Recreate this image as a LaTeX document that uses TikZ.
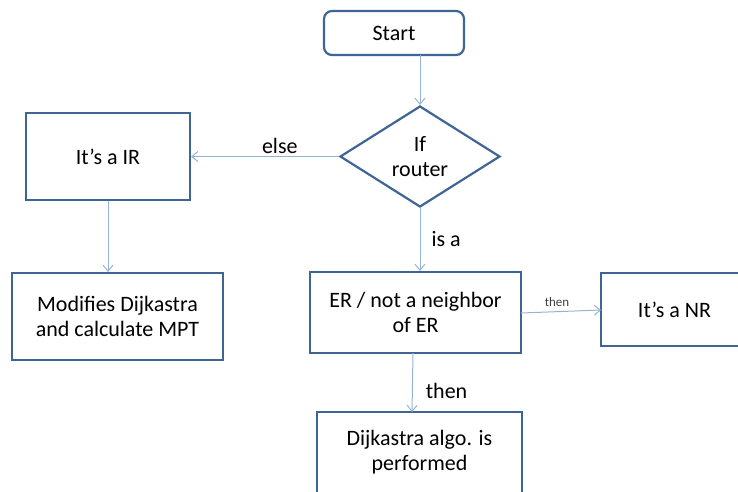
\documentclass[tikz,border=0pt]{standalone}
\usepackage{fontspec}
\setmainfont{Carlito}
\usetikzlibrary{shapes.geometric,arrows.meta}
\definecolor{boxline}{HTML}{3F6594}
\definecolor{conn}{HTML}{95B3D7}
\begin{document}
\begin{tikzpicture}[x=1pt,y=-1pt,
  box/.style={draw=boxline,line width=2.2pt,fill=white,align=center,inner sep=0pt,font=\fontsize{22}{25}\selectfont},
  conline/.style={draw=conn,line width=1pt,-{Straight Barb[length=6pt,width=10pt]}},
  lbl/.style={font=\fontsize{22}{25}\selectfont,inner sep=1pt},
  small/.style={font=\fontsize{13}{15}\selectfont,inner sep=1pt,text=black!75}]
\useasboundingbox (0,0) rectangle (738,491);
\clip (0,0) rectangle (738,491);
\node[box,rounded corners=8pt,minimum width=140pt,minimum height=44pt] (start) at (394,33) {Start};
\node[draw=boxline,line width=2.2pt,fill=white,diamond,aspect=1.6,minimum width=160pt,minimum height=101pt,inner sep=0pt,align=center,font=\fontsize{22}{25}\selectfont] (dec) at (420,156.5) {If\\router};
\node[box,minimum width=164pt,minimum height=87pt] (ir) at (108,156.5) {It’s a IR};
\node[box,minimum width=211pt,minimum height=87pt] (mod) at (117.5,316.5) {Modifies Dijkastra\\and calculate MPT};
\node[box,minimum width=211pt,minimum height=81pt] (er) at (415.5,312.5) {ER / not a neighbor\\of ER};
\node[box,minimum width=160pt,minimum height=73pt] (nr) at (681,309.5) {It’s a NR\hspace{13pt}};
\node[box,minimum width=205pt,minimum height=100pt] (dij) at (419.5,462) {};
\node[font=\fontsize{22}{25}\selectfont,align=center] (dijtxt) at (419.5,452) {Dijkastra algo. is\\performed};
\coordinate (s1) at (420,55);
\draw[conline] (s1) -- (dec.north);
\draw[conline] (dec.west) -- (ir.east) node[lbl,pos=0.4,above=1pt] (else) {else};
\draw[conline] (ir.south) -- (mod.north -| ir.south);
\draw[conline] (dec.south) -- (er.north -| dec.south) node[lbl,pos=0.5,right=10pt] (isa) {is a};
\coordinate (e1) at (521,313);
\coordinate (n1) at (601,310);
\draw[conline] (e1) -- (n1) node[small,pos=0.45,above=4pt] (then1) {then};
\coordinate (e2) at (413,353);
\coordinate (d2) at (412,412);
\draw[conline] (e2) -- (d2) node[lbl,pos=0.65,right=12pt] (then2) {then};
\end{tikzpicture}
\end{document}
